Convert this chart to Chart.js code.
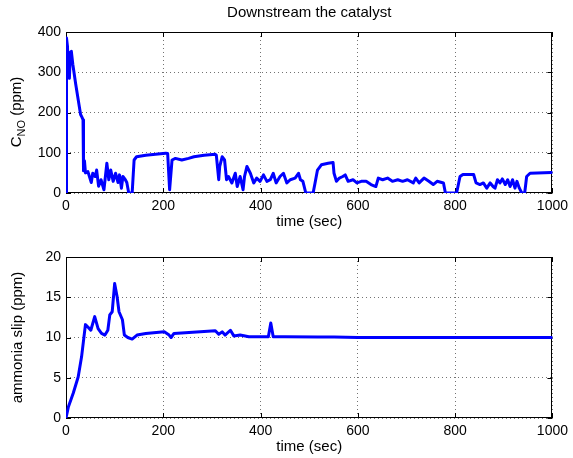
<!DOCTYPE html>
<html>
<head>
<meta charset="utf-8">
<script src="https://cdn.jsdelivr.net/npm/chart.js@4/dist/chart.umd.min.js"></script>
<style>
  html, body { margin: 0; padding: 0; background: #fff; }
  #wrap { position: relative; width: 573px; height: 458px; }
  .box { position: absolute; left: 0; width: 573px; height: 229px; }
</style>
</head>
<body>
<div id="wrap">
  <div class="box" style="top:0"><canvas id="noChart"></canvas></div>
  <div class="box" style="top:229px"><canvas id="nh3Chart"></canvas></div>
</div>
<script>
// NO downstream the catalyst (ppm) vs time (sec)
const noTime = [0, 1, 3, 5, 7, 9, 11, 14, 20, 26, 30, 33, 35, 36, 38, 40, 45, 52, 55, 60,
  63, 67, 72, 78, 84, 88, 92, 97, 102, 107, 110, 114, 117, 122, 125, 129, 136, 140, 145, 164,
  184, 205, 209, 213, 218, 225, 238, 252, 263, 284, 307, 309, 314, 316, 321, 326, 330, 334, 341, 348,
  352, 358, 364, 367, 372, 379, 386, 392, 399, 406, 413, 420, 426, 432, 440, 447, 454, 461, 471, 478,
  482, 487, 493, 508, 512, 517, 525, 539, 549, 551, 556, 562, 569, 574, 580, 590, 598, 607, 617, 627,
  637, 642, 651, 661, 671, 682, 692, 702, 714, 719, 726, 736, 746, 755, 763, 776, 780, 803, 810, 816,
  838, 843, 851, 858, 865, 872, 878, 882, 887, 892, 897, 903, 908, 913, 918, 923, 927, 932, 937, 943,
  947, 954, 998, 1000];
const noValue = [0, 385, 365, 290, 285, 350, 352, 320, 270, 225, 195, 188, 182, 55, 80, 50, 53, 26, 49, 41,
  57, 17, 33, 8, 74, 33, 57, 29, 49, 26, 45, 12, 41, 33, 26, 0, 0, 82, 90, 94,
  96, 99, 98, 8, 82, 86, 82, 86, 90, 94, 96, 94, 33, 66, 90, 82, 33, 41, 25, 49,
  16, 41, 8, 41, 66, 49, 25, 37, 29, 45, 29, 33, 49, 25, 41, 49, 25, 33, 37, 49,
  33, 29, 0, 0, 25, 57, 70, 74, 76, 49, 29, 37, 41, 45, 29, 33, 25, 29, 29, 21,
  16, 37, 33, 37, 29, 33, 29, 33, 25, 37, 25, 37, 29, 21, 29, 25, 0, 0, 41, 46,
  46, 25, 21, 25, 12, 25, 16, 12, 33, 25, 35, 21, 33, 16, 33, 12, 29, 12, 0, 0,
  41, 49, 51, 51];

// ammonia slip (ppm) vs time (sec)
const nh3Time = [0, 5, 15, 25, 32, 37, 40, 45, 51, 59, 66, 73, 80, 86, 90, 95, 100, 105, 109, 116,
  120, 127, 136, 146, 164, 202, 212, 216, 222, 307, 314, 321, 327, 338, 345, 358, 376, 396, 416, 421,
  426, 450, 518, 551, 600, 700, 800, 900, 1000];
const nh3Value = [0, 1.4, 3.1, 5.1, 7.6, 10.1, 11.6, 11.3, 10.9, 12.6, 11.1, 10.5, 10.3, 10.9, 12.8, 13.2, 16.7, 15.1, 13.2, 12.2,
  10.3, 10.0, 9.8, 10.3, 10.5, 10.7, 10.3, 10.0, 10.5, 10.85, 10.4, 10.7, 10.3, 10.9, 10.2, 10.3, 10.1, 10.1, 10.1, 11.8,
  10.1, 10.1, 10.05, 10.05, 10.0, 10.0, 10.0, 10.0, 10.0];

const xTicks = [0, 200, 400, 600, 800, 1000];
const noTicks = [0, 100, 200, 300, 400];
const nh3Ticks = [0, 5, 10, 15, 20];

const FONT = "'Liberation Sans', Arial, Helvetica, sans-serif";
Chart.defaults.font.family = FONT;
Chart.defaults.font.size = 14;
Chart.defaults.color = '#000';

// axes box with inward tick marks, like matlab
const frame = {
  id: 'frame',
  beforeDatasetsDraw(chart) {
    const { ctx, chartArea: a, scales } = chart;
    ctx.save();
    ctx.strokeStyle = '#000';
    ctx.lineWidth = 1;
    ctx.strokeRect(Math.round(a.left) + 0.5, Math.round(a.top) + 0.5,
      Math.round(a.width) - 1, Math.round(a.height) - 1);
    ctx.beginPath();
    scales.x.ticks.forEach((t) => {
      const px = Math.round(scales.x.getPixelForValue(t.value)) + 0.5;
      ctx.moveTo(px, a.bottom); ctx.lineTo(px, a.bottom - 5);
      ctx.moveTo(px, a.top); ctx.lineTo(px, a.top + 5);
    });
    scales.y.ticks.forEach((t) => {
      const py = Math.round(scales.y.getPixelForValue(t.value)) + 0.5;
      ctx.moveTo(a.left, py); ctx.lineTo(a.left + 5, py);
      ctx.moveTo(a.right, py); ctx.lineTo(a.right - 5, py);
    });
    ctx.stroke();
    ctx.restore();
  }
};

// y label with subscript: C_NO (ppm)
const subLabel = {
  id: 'subLabel',
  afterDraw(chart, args, opts) {
    if (!opts.show) return;
    const { ctx } = chart;
    ctx.save();
    ctx.translate(17, 112);
    ctx.rotate(-Math.PI / 2);
    ctx.fillStyle = '#000';
    ctx.textBaseline = 'middle';
    ctx.textAlign = 'left';
    const big = '15px ' + FONT, small = '11px ' + FONT;
    ctx.font = big; const wC = ctx.measureText('C').width;
    const wRest = ctx.measureText(' (ppm)').width;
    ctx.font = small; const wSub = ctx.measureText('NO').width;
    let x = -(wC + wSub + wRest) / 2;
    ctx.font = big; ctx.fillText('C', x, 0); x += wC;
    ctx.font = small; ctx.fillText('NO', x, 5); x += wSub;
    ctx.font = big; ctx.fillText(' (ppm)', x, 0);
    ctx.restore();
  }
};

function makeChart(id, times, values, yTicks, yMax, opts) {
  return new Chart(document.getElementById(id), {
    type: 'line',
    data: {
      datasets: [{
        data: times.map((t, i) => ({ x: t, y: values[i] })),
        borderColor: '#0000ff',
        borderWidth: 3,
        borderJoinStyle: 'round',
        borderCapStyle: 'round',
        pointRadius: 0,
        tension: 0,
        fill: false
      }]
    },
    options: {
      responsive: true,
      maintainAspectRatio: false,
      animation: false,
      layout: { padding: { left: 0, right: 17, top: opts.padTop, bottom: 0 } },
      plugins: {
        legend: { display: false },
        tooltip: { enabled: false },
        title: {
          display: !!opts.title,
          text: opts.title,
          fullSize: false,
          font: { size: 15, weight: 'normal', lineHeight: 1 },
          padding: { top: 5, bottom: 12 }
        },
        subLabel: { show: !!opts.subLabel }
      },
      scales: {
        x: {
          type: 'linear',
          min: 0, max: 1000,
          afterBuildTicks: (s) => { s.ticks = xTicks.map((v) => ({ value: v })); },
          afterFit: (s) => { s.height = opts.xHeight; },
          ticks: { padding: 5, maxRotation: 0, font: { size: 14 }, callback: (v) => String(v) },
          grid: { color: 'rgba(0,0,0,0.55)', lineWidth: 1, drawTicks: false },
          border: { display: false, dash: [1, 3] },
          title: {
            display: true, text: 'time (sec)',
            font: { size: 15, lineHeight: 1 },
            padding: { top: 0, bottom: opts.xTitlePad }
          }
        },
        y: {
          min: 0, max: yMax,
          afterBuildTicks: (s) => { s.ticks = yTicks.map((v) => ({ value: v })); },
          afterFit: (s) => { s.width = 66; },
          ticks: { padding: 5, font: { size: 14 }, callback: (v) => String(v) },
          grid: { color: 'rgba(0,0,0,0.55)', lineWidth: 1, drawTicks: false },
          border: { display: false, dash: [1, 3] },
          title: {
            display: !!opts.yTitle, text: opts.yTitle,
            font: { size: 15, lineHeight: 1 },
            padding: { top: 10, bottom: 0 }
          }
        }
      }
    },
    plugins: [frame, subLabel]
  });
}

makeChart('noChart', noTime, noValue, noTicks, 400,
  { title: 'Downstream the catalyst', padTop: 0, xHeight: 36, xTitlePad: 0, subLabel: true });
makeChart('nh3Chart', nh3Time, nh3Value, nh3Ticks, 20,
  { padTop: 28, xHeight: 40, xTitlePad: 4, yTitle: 'ammonia slip (ppm)' });
</script>
</body>
</html>
